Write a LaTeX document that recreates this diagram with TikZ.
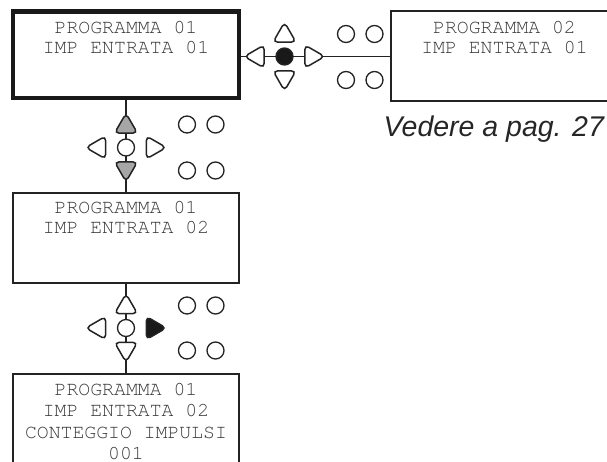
\documentclass[tikz,border=0pt]{standalone}
\usepackage{fontspec}
\setmonofont{TeX Gyre Cursor}
\setsansfont{Liberation Sans}
\usetikzlibrary{shapes.geometric}
\definecolor{txt}{RGB}{55,55,55}
\definecolor{ln}{RGB}{35,35,35}
\definecolor{tg}{RGB}{166,166,166}
\begin{document}
\begin{tikzpicture}[x=1pt,y=-1pt,
 lcd/.style={font=\fontsize{19.8}{20}\selectfont\ttfamily, text=txt, anchor=base, inner sep=0pt},
 screen/.style={draw=ln, line width=1.2pt, minimum width=226pt, inner sep=0pt},
 thickscreen/.style={draw=black!90, line width=4.5pt, minimum width=226pt, inner sep=0pt},
 wire/.style={draw=ln, line width=1.2pt},
 tri/.style={regular polygon, regular polygon sides=3, minimum size=26.5pt, inner sep=0pt, draw=ln, line width=1.5pt, fill=white, rounded corners=4.5pt},
 tup/.style={tri, shape border rotate=0},
 tdown/.style={tri, shape border rotate=180},
 tleft/.style={tri, shape border rotate=90},
 tright/.style={tri, shape border rotate=270},
 led/.style={circle, minimum size=17pt, inner sep=0pt, draw=ln, line width=1.3pt, fill=white},
 reftext/.style={font=\fontsize{28.5}{30}\selectfont\sffamily\itshape, text=black!85, anchor=base west, inner sep=0pt}
]
\useasboundingbox (0,0) rectangle (607,461);
\clip (0,0) rectangle (607,461);

% screens
\node[thickscreen, minimum height=86.5pt] (s1) at (126,54.75) {};
\node[screen, minimum width=227pt, minimum height=90pt] (s2) at (504.5,56) {};
\node[screen, minimum height=90pt] (s3) at (126,238) {};
\node[screen, minimum height=90pt] (s4) at (126,419) {};

% screen texts
\node[lcd] (t1a) at (126,33) {PROGRAMMA 01};
\node[lcd] (t1b) at (126,53) {IMP ENTRATA 01};
\node[lcd] (t2a) at (504.5,33) {PROGRAMMA 02};
\node[lcd] (t2b) at (504.5,53) {IMP ENTRATA 01};
\node[lcd] (t3a) at (126,213) {PROGRAMMA 01};
\node[lcd] (t3b) at (126,233) {IMP ENTRATA 02};
\node[lcd] (t4a) at (126,395) {PROGRAMMA 01};
\node[lcd] (t4b) at (126,416.5) {IMP ENTRATA 02};
\node[lcd] (t4c) at (126,438) {CONTEGGIO IMPULSI};
\node[lcd] (t4d) at (126,459.5) {001};

% connectors
\coordinate (h) at (284.5,56.5);
\draw[wire] (s1.east |- h) -- (s2.west |- h);
\draw[wire] (s1.south) -- (s3.north);
\draw[wire] (s3.south) -- (s4.north);

% cluster horizontal (s1 -> s2)
\node[tleft] (c3l) at (257.5,56.5) {};
\node[led, fill=black!90] (c3c) at (284.5,56.5) {};
\node[tright] (c3r) at (311.5,56.5) {};
\node[tup] (c3u) at (284.5,35.5) {};
\node[tdown] (c3d) at (284.5,77.5) {};
\node[led] (c3a) at (346,34) {};
\node[led] (c3b) at (374.5,34) {};
\node[led] (c3e) at (346,80) {};
\node[led] (c3f) at (374.5,80) {};

% cluster 1 (s1 -> s3)
\node[tup, fill=tg] (c1u) at (126,126.5) {};
\node[led] (c1c) at (126,147.5) {};
\node[tdown, fill=tg] (c1d) at (126,168.5) {};
\node[tleft] (c1l) at (99,147.5) {};
\node[tright] (c1r) at (153,147.5) {};
\node[led] (c1a) at (187,124.5) {};
\node[led] (c1b) at (215.5,124.5) {};
\node[led] (c1e) at (187,170.5) {};
\node[led] (c1f) at (215.5,170.5) {};

% cluster 2 (s3 -> s4)
\node[tup] (c2u) at (126,307) {};
\node[led] (c2c) at (126,328) {};
\node[tdown] (c2d) at (126,349) {};
\node[tleft] (c2l) at (99,328) {};
\node[tright, fill=black!90] (c2r) at (153,328) {};
\node[led] (c2a) at (187,305.5) {};
\node[led] (c2b) at (215.5,305.5) {};
\node[led] (c2e) at (187,350.5) {};
\node[led] (c2f) at (215.5,350.5) {};

% reference text
\node[reftext] (ref) at (383.5,136.5) {Vedere a pag. 27};
\end{tikzpicture}
\end{document}
